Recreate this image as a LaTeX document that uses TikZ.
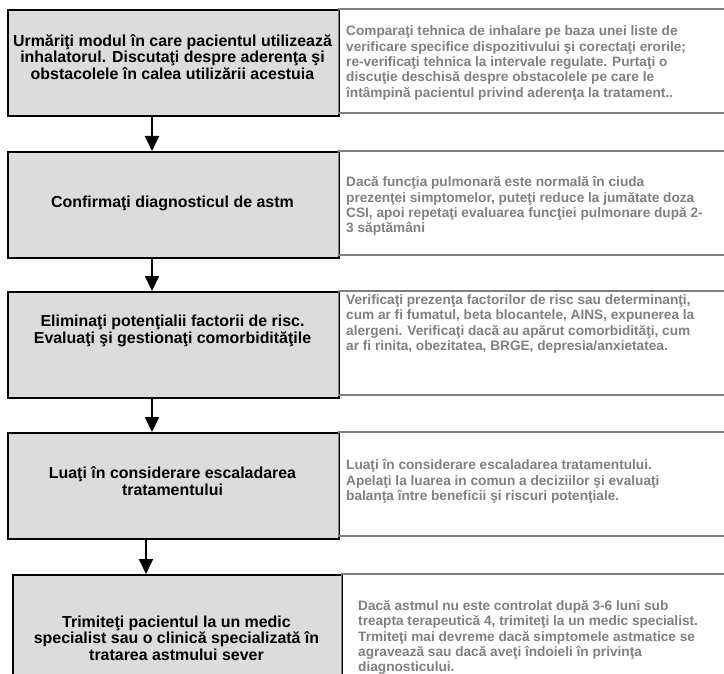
\documentclass[tikz,border=0pt]{standalone}
\usepackage{fontspec}
\setmainfont{Liberation Sans}
\usetikzlibrary{arrows.meta}
\definecolor{boxfill}{HTML}{DCDCDC}
\definecolor{notegray}{HTML}{808080}
\tikzset{
  stepbox/.style={draw=black, line width=2bp, fill=boxfill, anchor=north west,
    inner sep=0, minimum width=331bp, minimum height=106bp},
  notebox/.style={draw=none, anchor=north west, inner sep=0,
    minimum width=392bp, minimum height=104bp},
  steptext/.style={font=\bfseries\fontsize{16}{16.5}\selectfont, align=center, inner sep=0},
  notetext/.style={font=\bfseries\fontsize{13.7}{15.4}\selectfont, text=notegray,
    align=left, anchor=west, inner sep=0},
  noterule/.style={draw=notegray, line width=2bp},
  noteside/.style={draw=notegray, line width=1bp},
  flow/.style={line width=2bp, -{Triangle[width=14bp,length=15bp]}},
}
\begin{document}
\begin{tikzpicture}[x=1bp,y=-1bp]
\useasboundingbox (0,0) rectangle (724,674);
\clip (0,0) rectangle (724,674);

% step boxes (left column)
\node[stepbox] (b1) at (7,9) {};
\node[stepbox] (b2) at (7,151) {};
\node[stepbox] (b3) at (7,291) {};
\node[stepbox] (b4) at (7,432) {};
\node[stepbox, minimum width=329bp, minimum height=130bp] (b5) at (12,574) {};

% note boxes (right column), open towards the right edge
\node[notebox] (n1) at (338,9) {};
\node[notebox] (n2) at (338,151) {};
\node[notebox] (n3) at (338,291) {};
\node[notebox] (n4) at (338,432) {};
\node[notebox, minimum width=389bp, minimum height=130bp] (n5) at (341,574) {};
\foreach \n in {n1,n2,n3,n4,n5}{
  \draw[noterule] (\n.north west) -- (\n.north east);
  \draw[noteside] (\n.north west) -- (\n.south west);
}
\foreach \n in {n1,n2,n3,n4}{
  \draw[noterule] (\n.south west) -- (\n.south east);
}

% step texts
\node[steptext] (t1) at (172.5,57) {Urmăriţi modul în care pacientul utilizează\\inhalatorul. Discutaţi despre aderenţa şi\\obstacolele în calea utilizării acestuia};
\node[steptext] (t2) at (172.5,203) {Confirmaţi diagnosticul de astm};
\node[steptext] (t3) at (172.5,331) {Eliminaţi potenţialii factorii de risc.\\Evaluaţi şi gestionaţi comorbidităţile};
\node[steptext] (t4) at (172.5,481) {Luaţi în considerare escaladarea\\tratamentului};
\node[steptext] (t5) at (176.5,638) {Trimiteţi pacientul la un medic\\specialist sau o clinică specializată în\\tratarea astmului sever};

% note texts
\node[notetext] (d1) at (346,63) {Comparaţi tehnica de inhalare pe baza unei liste de\\verificare specifice dispozitivului şi corectaţi erorile;\\re-verificaţi tehnica la intervale regulate. Purtaţi o\\discuţie deschisă despre obstacolele pe care le\\întâmpină pacientul privind aderenţa la tratament..};
\node[notetext] (d2) at (346,206) {Dacă funcţia pulmonară este normală în ciuda\\prezenţei simptomelor, puteţi reduce la jumătate doza\\CSI, apoi repetaţi evaluarea funcţiei pulmonare după 2-\\3 săptămâni};
\node[notetext] (d3) at (346,324) {Verificaţi prezenţa factorilor de risc sau determinanţi,\\cum ar fi fumatul, beta blocantele, AINS, expunerea la\\alergeni. Verificaţi dacă au apărut comorbidităţi, cum\\ar fi rinita, obezitatea, BRGE, depresia/anxietatea.};
\node[notetext] (d4) at (346,481.5) {Luaţi în considerare escaladarea tratamentului.\\Apelaţi la luarea in comun a deciziilor şi evaluaţi\\balanţa între beneficii şi riscuri potenţiale.};
\node[notetext] (d5) at (358,637.5) {Dacă astmul nu este controlat după 3-6 luni sub\\treapta terapeutică 4, trimiteţi la un medic specialist.\\Trmiteţi mai devreme dacă simptomele astmatice se\\agravează sau dacă aveţi îndoieli în privinţa\\diagnosticului.};

% connectors
\coordinate (ax) at (152,0);
\coordinate (bx) at (146,0);
\draw[flow] (b1.south -| ax) -- (b2.north -| ax);
\draw[flow] (b2.south -| ax) -- (b3.north -| ax);
\draw[flow] (b3.south -| ax) -- (b4.north -| ax);
\draw[flow] (b4.south -| bx) -- (b5.north -| bx);
\end{tikzpicture}
\end{document}
